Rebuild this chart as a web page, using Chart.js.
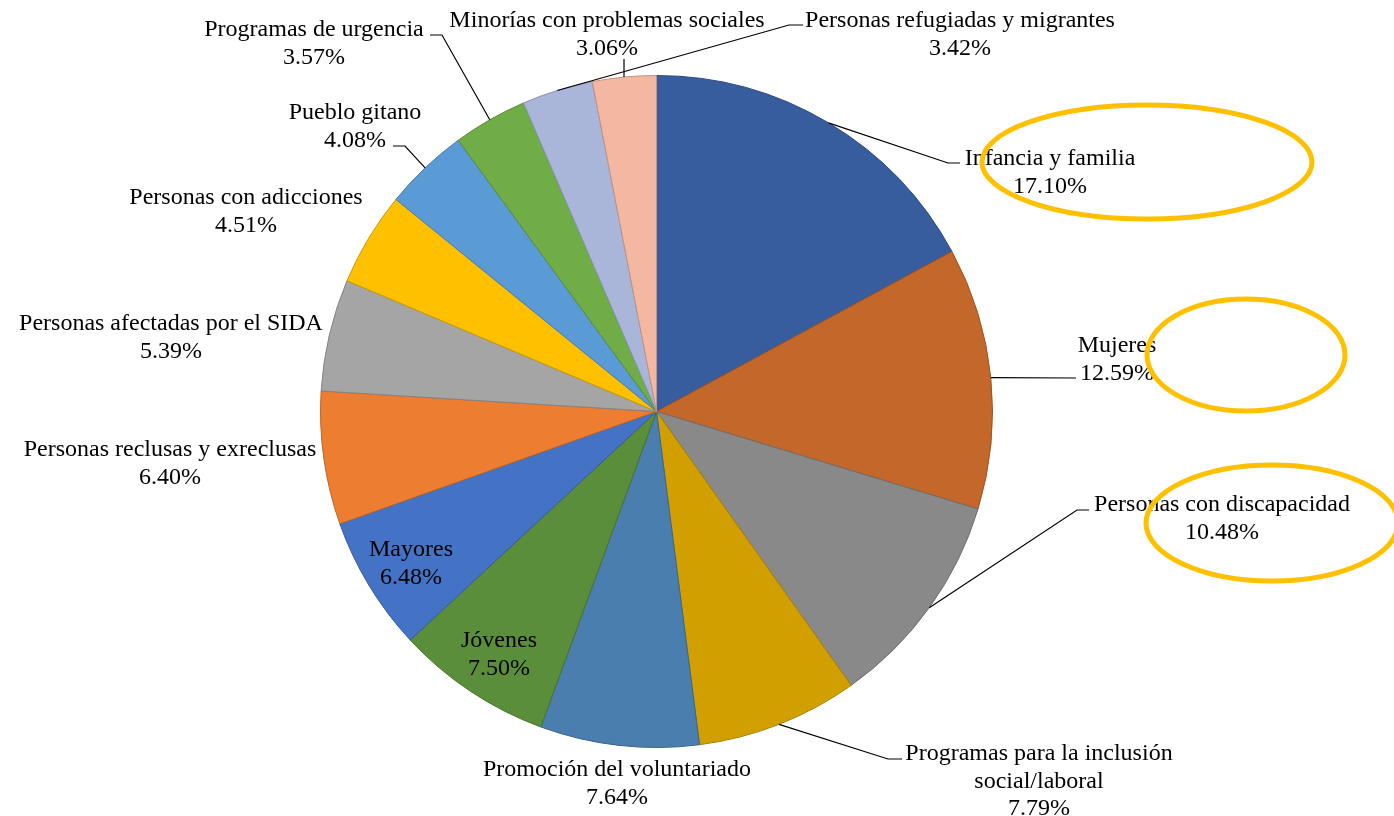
<!DOCTYPE html>
<html>
<head>
<meta charset="utf-8">
<script src="https://cdn.jsdelivr.net/npm/chart.js@4.4.1/dist/chart.umd.min.js"></script>
<style>
html,body{margin:0;padding:0;background:#fff;}
#wrap{width:1394px;height:816px;position:relative;}
canvas{display:block;}
</style>
</head>
<body>
<div id="wrap"><canvas id="c" width="1394" height="816"></canvas></div>
<script>
// ---- data ----
const categories = [
  ['Infancia y familia'],
  ['Mujeres'],
  ['Personas con discapacidad'],
  ['Programas para la inclusión', 'social/laboral'],
  ['Promoción del voluntariado'],
  ['Jóvenes'],
  ['Mayores'],
  ['Personas reclusas y exreclusas'],
  ['Personas afectadas por el SIDA'],
  ['Personas con adicciones'],
  ['Pueblo gitano'],
  ['Programas de urgencia'],
  ['Personas refugiadas y migrantes'],
  ['Minorías con problemas sociales']
];
const shares = [17.10, 12.59, 10.48, 7.79, 7.64, 7.50, 6.48, 6.40, 5.39, 4.51, 4.08, 3.57, 3.42, 3.06];

// ---- styles ----
const sliceColors = ['#375D9F','#C4672A','#898989','#D29F00','#4A7EAE','#5A8E3A','#4472C4','#ED7D31','#A5A5A5','#FFC000','#5B9BD5','#70AD47','#A9B5D9','#F4B8A2'];
const sliceBorders = ['#2C4A80','#9D5220','#6E6E6E','#A87F00','#3B658B','#48722E','#36599C','#BE6427','#848484','#CC9A00','#4A7CAA','#5A8A39','#8791AE','#C39381'];

// label layout: centre x, first-line centre y, leader elbow points (from label side), anchor fraction on arc
const labelLayout = [
  {x:1050, y:157, leader:[[960,163],[948,163]], frac:0.5},
  {x:1117, y:344, leader:[[1076,378]], frac:0.5},
  {x:1222, y:503, leader:[[1089,510],[1077,510]], frac:0.5},
  {x:1039, y:752, leader:[[902,759],[888,759]], frac:0.5},
  {x:617,  y:768, leader:null},
  {x:499,  y:639, leader:null},
  {x:411,  y:548, leader:null},
  {x:170,  y:448, leader:null},
  {x:171,  y:322, leader:null},
  {x:246,  y:196, leader:null},
  {x:355,  y:111, leader:[[393,146],[405,146]], frac:0.5},
  {x:314,  y:28,  leader:[[430,35],[442,35]], frac:0.5},
  {x:960,  y:19,  leader:[[803,25],[789,25]], frac:0.5},
  {x:607,  y:19,  leader:[[624,59]], vertical:true}
];
const lineHeight = 27.5;
const ellipses = [
  {cx:1147, cy:162, rx:165, ry:57},
  {cx:1246, cy:355, rx:99,  ry:56},
  {cx:1272, cy:523, rx:126, ry:58}
];

const labelPlugin = {
  id: 'labelPlugin',
  afterDatasetsDraw(chart) {
    const ctx = chart.ctx;
    const meta = chart.getDatasetMeta(0);
    ctx.save();
    // leader lines
    ctx.strokeStyle = '#000';
    ctx.lineWidth = 1.2;
    meta.data.forEach((arc, i) => {
      const lay = labelLayout[i];
      if (!lay.leader) return;
      const p = arc.getProps(['x','y','startAngle','endAngle','outerRadius'], true);
      let ax, ay;
      const last = lay.leader[lay.leader.length - 1];
      if (lay.vertical) {
        ax = last[0];
        ay = p.y - Math.sqrt(p.outerRadius * p.outerRadius - (ax - p.x) * (ax - p.x));
      } else {
        const a = p.startAngle + lay.frac * (p.endAngle - p.startAngle);
        ax = p.x + p.outerRadius * Math.cos(a);
        ay = p.y + p.outerRadius * Math.sin(a);
      }
      ctx.beginPath();
      ctx.moveTo(lay.leader[0][0], lay.leader[0][1]);
      for (let k = 1; k < lay.leader.length; k++) ctx.lineTo(lay.leader[k][0], lay.leader[k][1]);
      ctx.lineTo(ax, ay);
      ctx.stroke();
    });
    // text
    ctx.fillStyle = '#000';
    ctx.font = '24px "Liberation Serif", "Times New Roman", serif';
    ctx.textAlign = 'center';
    ctx.textBaseline = 'alphabetic';
    const labels = chart.data.labels;
    const vals = chart.data.datasets[0].data;
    labels.forEach((lab, i) => {
      const lay = labelLayout[i];
      const lines = [].concat(lab, vals[i].toFixed(2) + '%');
      lines.forEach((t, k) => ctx.fillText(t, lay.x, lay.y + 8 + k * lineHeight));
    });
    // highlight ellipses
    ctx.strokeStyle = '#FFC000';
    ctx.lineWidth = 5;
    ellipses.forEach(e => {
      ctx.beginPath();
      ctx.ellipse(e.cx, e.cy, e.rx, e.ry, 0, 0, Math.PI * 2);
      ctx.stroke();
    });
    ctx.restore();
  }
};

new Chart(document.getElementById('c'), {
  type: 'pie',
  data: {
    labels: categories,
    datasets: [{
      data: shares,
      backgroundColor: sliceColors,
      borderColor: sliceBorders,
      borderWidth: 1
    }]
  },
  options: {
    responsive: false,
    animation: false,
    devicePixelRatio: 1,
    events: [],
    layout: { padding: { top: 75, bottom: 68, left: 320, right: 401 } },
    plugins: { legend: { display: false }, tooltip: { enabled: false } }
  },
  plugins: [labelPlugin]
});
</script>
</body>
</html>
